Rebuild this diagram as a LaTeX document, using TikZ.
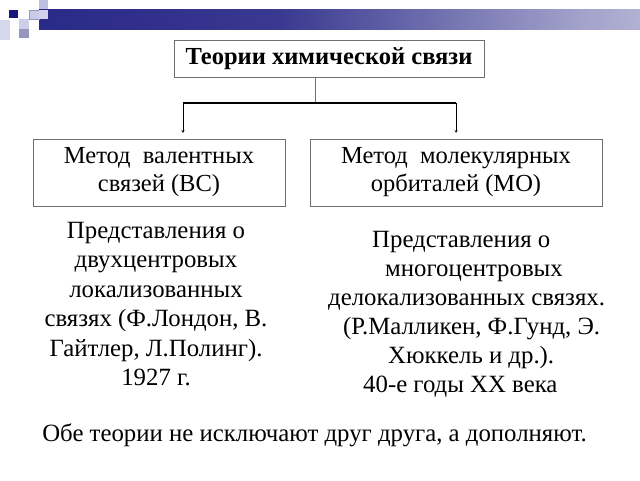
\documentclass[tikz,border=0pt]{standalone}
\usepackage{fontspec}
\setmainfont{Liberation Serif}
\usetikzlibrary{arrows}
\definecolor{hdnavy}{RGB}{22,22,125}
\definecolor{hdlilac}{RGB}{190,190,225}
\definecolor{hdgrey}{RGB}{150,150,190}
\definecolor{boxline}{RGB}{110,110,110}
\pgfdeclarehorizontalshading{barfade}{100bp}{color(0bp)=(hdnavy); color(45bp)=(hdnavy!85!white); color(70bp)=(hdnavy!40!white); color(100bp)=(white)}
\tikzset{
	methbox/.style={draw=boxline, inner sep=0pt, align=center, font=\fontsize{24.5}{28}\selectfont},
	plain/.style={align=center, font=\fontsize{24.8}{29.5}\selectfont}
}

\begin{document}
\begin{tikzpicture}[x=1pt,y=-1pt,>=stealth]
\useasboundingbox (0,0) rectangle (640,480);

% header bar and squares
\shade[shading=barfade] (39,9) rectangle (640,29);
\fill[hdlilac!60!white] (0,20) rectangle (10,40);
\fill[hdnavy] (9,10) rectangle (18,18);
\fill[hdlilac] (39,0) rectangle (48,9);
\fill[hdlilac!80!white, draw=hdgrey] (29,10) rectangle (39,19);
\fill[hdlilac!70!white] (39,10) rectangle (48,19);
\fill[hdlilac!75!white] (19,19) rectangle (29,29);
\fill[hdgrey] (19,29) rectangle (29,38);

% boxes
\node[draw=boxline, minimum width=310pt, minimum height=37pt, inner sep=0pt,
	font=\fontsize{24.5}{28}\selectfont\bfseries] (theory) at (329,59) {Теории химической связи};
\node[methbox, minimum width=252pt, minimum height=67pt] (vbmeth) at (159,172.5)
	{Метод\ \ валентных\\связей (ВС)};
\node[methbox, minimum width=292pt, minimum height=67pt] (mometh) at (456,172.5)
	{Метод\ \ молекулярных\\орбиталей (МО)};

% connectors
\coordinate (bar) at (315,103);
\coordinate (barl) at (183,103);
\coordinate (barr) at (456,103);
\draw[boxline] (theory.south -| bar) -- (bar);
\draw[line width=2.5pt] (barl) -- (barr);
\draw[->] (barl) -- (183,133);
\draw[->] (barr) -- (456,133);

% texts
\node[plain] (vbtext) at (156,304) {Представления о\\двухцентровых\\локализованных\\связях (Ф.Лондон, В.\\Гайтлер, Л.Полинг).\\1927 г.};
\node[plain, align=left, anchor=north west, inner sep=0pt, font=\fontsize{24.8}{29}\selectfont] (motext) at (328,231)
	{\hspace*{44pt}Представления о\\
	\hspace*{57pt}многоцентровых\\
	делокализованных связях.\\
	\hspace*{15pt}(Р.Малликен, Ф.Гунд, Э.\\
	\hspace*{60pt}Хюккель и др.).\\
	\hspace*{35pt}40-е годы XX века};
\node[plain, font=\fontsize{24.8}{28}\selectfont] (summary) at (314.5,435) {Обе теории не исключают друг друга, а дополняют.};
\end{tikzpicture}
\end{document}
